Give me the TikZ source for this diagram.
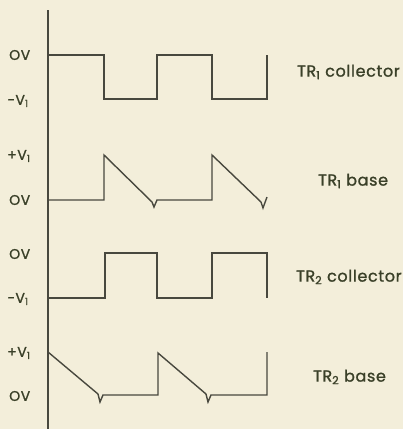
\documentclass[tikz,border=0pt]{standalone}
\usepackage{fontspec}
\setmainfont{Poppins}
\newfontfamily\labfont{Poppins}[FakeBold=1.2,LetterSpace=4]
\definecolor{paper}{RGB}{243,238,218}
\definecolor{ink}{RGB}{72,72,62}
\definecolor{txt}{RGB}{58,64,40}
\begin{document}
\begin{tikzpicture}[x=1pt,y=-1pt,
  wave/.style={draw=ink,line width=1.4pt,line join=miter},
  lvl/.style={anchor=west,text=txt,font=\labfont\fontsize{14}{15}\selectfont,inner sep=0pt},
  tag/.style={anchor=west,text=txt,font=\labfont\fontsize{16}{17}\selectfont,inner sep=0pt}]
\fill[paper] (0,0) rectangle (403,429);
\useasboundingbox (0,0) rectangle (403,429);
% axis
\coordinate (axtop) at (48,10);
\coordinate (axbot) at (48,429);
\draw[ink,line width=1.3pt] (axtop) -- (axbot);
% TR1 collector
\draw[wave] (48,55) -- (104,55) -- (104,99) -- (157,99) -- (157,55) -- (212,55) -- (212,99) -- (267,99) -- (267,55);
% TR1 base
\draw[wave] (48,200) -- (104,200) -- (104,155) -- (152,202) -- (154,207) -- (157,200) -- (212,200) -- (212,155) -- (261,202) -- (263,208) -- (267,197);
% TR2 collector
\draw[wave] (48,298) -- (105,298) -- (105,253) -- (157,253) -- (157,298) -- (212,298) -- (212,253) -- (267,253) -- (267,298);
% TR2 base
\draw[wave] (48,352) -- (98,394) -- (100,402) -- (103,395) -- (158,395) -- (158,353) -- (206,394) -- (208,402) -- (211,395) -- (267,395) -- (267,352);
% level labels
\node[lvl] (l1) at (9,55) {OV};
\node[lvl] (l2) at (7,101) {−V\textsubscript{1}};
\node[lvl] (l3) at (7,156) {+V\textsubscript{1}};
\node[lvl] (l4) at (9,200) {OV};
\node[lvl] (l5) at (9,254) {OV};
\node[lvl] (l6) at (7,299) {−V\textsubscript{1}};
\node[lvl] (l7) at (7,353) {+V\textsubscript{1}};
\node[lvl] (l8) at (9,396) {OV};
% trace labels
\node[tag] (t1) at (297,72) {TR\textsubscript{1} collector};
\node[tag] (t2) at (318,181) {TR\textsubscript{1} base};
\node[tag] (t3) at (296,277) {TR\textsubscript{2} collector};
\node[tag] (t4) at (313,377) {TR\textsubscript{2} base};
\end{tikzpicture}
\end{document}
